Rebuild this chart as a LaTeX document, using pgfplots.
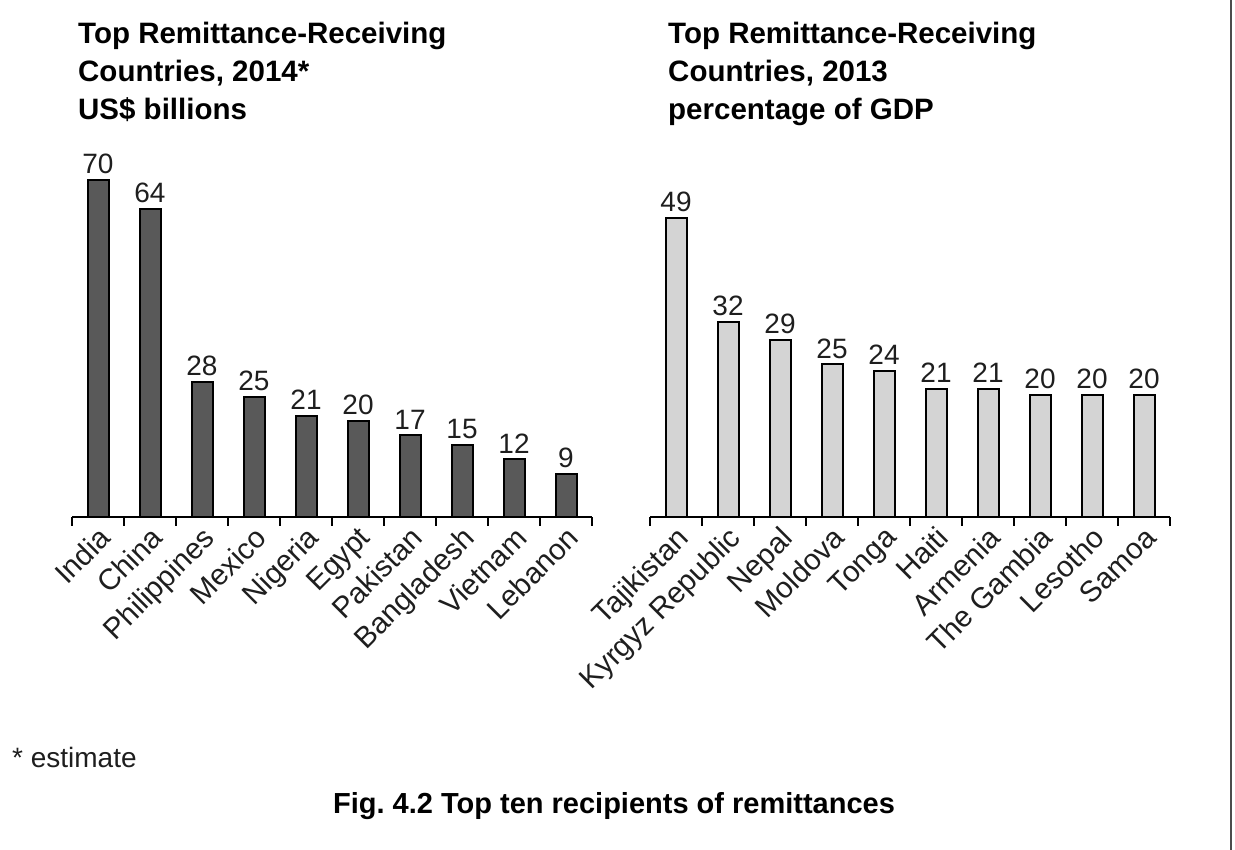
\documentclass[border=0pt]{standalone}
\usepackage{fontspec}
\setmainfont{Liberation Sans}
\usepackage{pgfplots}
\pgfplotsset{compat=1.18}
\definecolor{darkbar}{RGB}{89,89,89}
\definecolor{lightbar}{RGB}{212,212,212}
\definecolor{txt}{RGB}{30,30,30}
\newcommand{\bigf}{\fontsize{28}{28}\selectfont}
\newcommand{\titf}{\fontsize{29.5}{29.5}\selectfont}
\newcommand{\tickf}{\fontsize{29.5}{29.5}\selectfont}
\pgfplotsset{
  remit/.style={
    scale only axis, width=520pt,
    xmin=-0.5, xmax=9.5, ymin=0,
    clip=false,
    hide y axis,
    axis x line*=bottom,
    x axis line style={line width=1.8pt, black},
    xtick={0,...,9},
    major tick length=0pt,
    minor xtick={-0.5,0.5,...,9.5},
    minor tick length=9pt,
    tick align=outside,
    minor tick style={line width=1.8pt, black},
    xticklabel style={rotate=45, anchor=north east, font=\tickf, text=txt, inner sep=2pt, xshift=-4pt, yshift=-3pt},
    ybar, bar width=21pt,
    nodes near coords,
    /pgf/number format/assume math mode=true,
    every node near coord/.append style={font=\bigf, text=txt, inner sep=2pt, yshift=3pt},
  }
}
\begin{document}
\frenchspacing
\begin{tikzpicture}[x=1pt,y=1pt]
\path[use as bounding box] (0,0) rectangle (1235,850);
\draw[line width=1.5pt, black!70] (1231,0) -- (1231,850);
% titles
\node[anchor=base west, font=\bfseries\titf, inner sep=0pt] at (78,806) {Top Remittance-Receiving};
\node[anchor=base west, font=\bfseries\titf, inner sep=0pt] at (78,768) {Countries, 2014*};
\node[anchor=base west, font=\bfseries\titf, inner sep=0pt] at (78,730) {US\$ billions};
\node[anchor=base west, font=\bfseries\titf, inner sep=0pt] at (668,806) {Top Remittance-Receiving};
\node[anchor=base west, font=\bfseries\titf, inner sep=0pt] at (668,768) {Countries, 2013};
\node[anchor=base west, font=\bfseries\titf, inner sep=0pt] at (668,730) {percentage of GDP};
\node[anchor=base west, font=\bigf, text=txt, inner sep=0pt] at (12,82) {* estimate};
\node[anchor=base, font=\bfseries\fontsize{29}{29}\selectfont, inner sep=0pt] at (614,36) {Fig. 4.2 Top ten recipients of remittances};

\begin{axis}[remit,
  at={(72pt,333pt)}, anchor=south west,
  height=337pt, ymax=70,
  xticklabels={India,China,Philippines,Mexico,Nigeria,Egypt,Pakistan,Bangladesh,Vietnam,Lebanon},
]
\addplot[fill=darkbar, draw=black, line width=2pt] coordinates {
 (0,70) (1,64) (2,28) (3,25) (4,21) (5,20) (6,17) (7,15) (8,12) (9,9)};
\end{axis}

\begin{axis}[remit,
  at={(650pt,333pt)}, anchor=south west,
  height=299pt, ymax=49,
  xticklabels={Tajikistan,Kyrgyz Republic,Nepal,Moldova,Tonga,Haiti,Armenia,The Gambia,Lesotho,Samoa},
]
\addplot[fill=lightbar, draw=black, line width=2pt] coordinates {
 (0,49) (1,32) (2,29) (3,25) (4,24) (5,21) (6,21) (7,20) (8,20) (9,20)};
\end{axis}
\end{tikzpicture}
\end{document}
